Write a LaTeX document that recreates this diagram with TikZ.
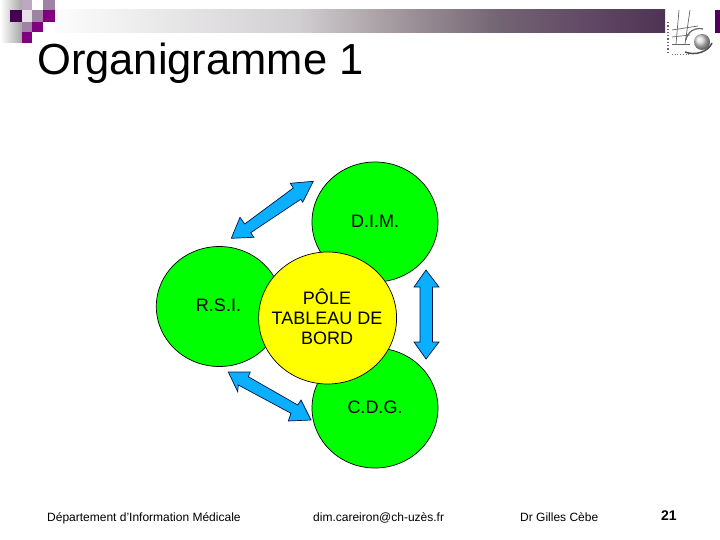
\documentclass[tikz,border=0pt]{standalone}
\usepackage{fontspec}
\setmainfont{Liberation Sans}
\usetikzlibrary{shadings,shapes.geometric}
\definecolor{grn}{RGB}{0,255,0}
\definecolor{yel}{RGB}{255,255,0}
\definecolor{blu}{RGB}{10,175,255}
\definecolor{navy}{RGB}{0,20,70}
\definecolor{pdark}{RGB}{70,0,80}
\definecolor{pmid}{RGB}{128,0,128}
\definecolor{plight}{RGB}{160,130,165}
\pgfdeclarehorizontalshading{bandshade}{100bp}{
  rgb(0bp)=(1,1,1);
  rgb(25bp)=(0.99,0.99,0.99);
  rgb(45bp)=(0.82,0.81,0.82);
  rgb(53.3bp)=(0.63,0.59,0.61);
  rgb(61.5bp)=(0.45,0.39,0.45);
  rgb(69.7bp)=(0.37,0.27,0.39);
  rgb(75bp)=(0.31,0.20,0.33);
  rgb(100bp)=(0.31,0.20,0.33)
}
\tikzset{
  disc/.style={ellipse,draw=black,line width=0.7pt,fill=grn,inner sep=0pt,minimum width=126pt,minimum height=120pt},
  label/.style={font=\fontsize{18}{20}\selectfont,align=center,text=black,inner sep=0pt},
  foot/.style={font=\fontsize{12}{14}\selectfont,text=black,inner sep=0pt,anchor=base west},
  blockarrow/.style={draw=navy,line width=0.7pt,fill=blu,line join=miter},
  logo/.style={draw=black!60,line width=0.7pt}
}
\begin{document}
\begin{tikzpicture}[x=1pt,y=-1pt]
\useasboundingbox (0,0) rectangle (720,540);
\fill[white] (0,0) rectangle (720,540);
% header
\shade[shading=bandshade,draw=none] (55,10) rectangle (665,33);
\fill[pdark!80!pmid] (715,10) rectangle (720,33);
\shade[left color=white,right color=black!35,draw=none] (0,0) rectangle (22,43);
\fill[plight!70!white] (22,0) rectangle (32,10);
\fill[plight!25!white] (22,10) rectangle (32,22);
\fill[plight] (43,0) rectangle (55,10);
\fill[pdark] (10,10) rectangle (22,22);
\fill[plight] (32,10) rectangle (43,22);
\fill[pmid] (43,10) rectangle (55,22);
\fill[plight] (22,22) rectangle (32,32);
\fill[pmid] (32,22) rectangle (43,32);
\fill[pmid] (22,32) rectangle (32,43);
% logo
\draw[black!60,line width=1.3pt,dotted] (668,22) -- (668,52);
\draw[logo] (679,10) -- (676,44);
\draw[logo] (690,10) -- (685,44);
\draw[logo] (672,30) -- (698,26);
\draw[logo] (672,37) -- (690,35);
\draw[logo] (672,44) -- (690,44);
\shade[ball color=black!15] (702,42) circle (8);
\draw[black!70,line width=1.5pt] (685,52) .. controls (695,56) and (708,52) .. (712,43);
\draw[black!60,line width=1.2pt] (686,40) .. controls (687,32) and (695,27) .. (703,29);
\draw[black!50,line width=0.7pt,dotted] (672,54) -- (690,54);
% title
\node[font=\fontsize{43.5}{50}\selectfont,anchor=base west,inner sep=0pt] (title) at (37,75) {Organigramme 1};
% circles
\node[disc] (dim) at (375,222) {};
\node[disc] (rsi) at (219.3,306.5) {};
\node[disc] (cdg) at (375,408) {};
\node[disc,fill=yel,minimum width=138pt,minimum height=132pt] (pole) at (327.6,318) {};
\node[label] (dimt) at (375,221.7) {D.I.M.};
\node[label] (rsit) at (218.5,305.7) {R.S.I.};
\node[label] (cdgt) at (375,407.7) {C.D.G.};
\node[label] (polet) at (327,316.5) {PÔLE\\TABLEAU DE\\BORD};
% block arrows
\draw[blockarrow] (313.3,181.3) -- (290.3,183.3) -- (293.3,188) -- (244.7,224) -- (240,217.3) -- (231.3,238.3) -- (254,237.3) -- (250.7,232.7) -- (300.7,199.3) -- (302.7,202.3) -- cycle;
\draw[blockarrow] (426,270) -- (439,287) -- (432.5,287) -- (432.5,342) -- (439,342) -- (426,359) -- (414,342) -- (420,342) -- (420,287) -- (414,287) -- cycle;
\draw[blockarrow] (228.3,372) -- (250.3,372) -- (248.3,376.7) -- (297.7,405) -- (301,400) -- (311,420) -- (288.3,421) -- (291,413.3) -- (238.3,385) -- (237.7,391.7) -- cycle;
% footer
\node[foot] (f1) at (47,521) {Département d'Information Médicale};
\node[foot] (f2) at (313,521) {dim.careiron@ch-uzès.fr};
\node[foot] (f3) at (520,521) {Dr Gilles Cèbe};
\node[foot,font=\fontsize{14}{16}\selectfont\bfseries] (f4) at (661,520) {21};
\end{tikzpicture}
\end{document}
